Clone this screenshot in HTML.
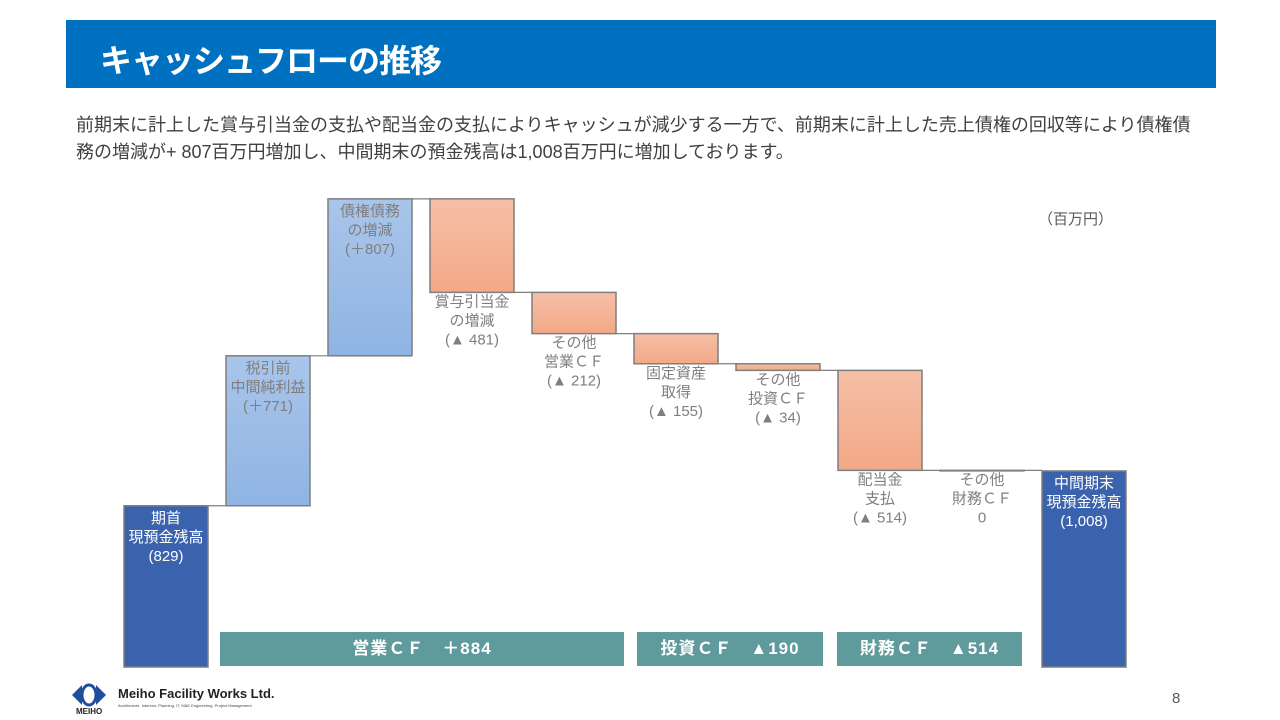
<!DOCTYPE html>
<html><head><meta charset="utf-8">
<style>
body{margin:0;width:1280px;height:720px;background:#fff;position:relative;overflow:hidden;font-family:"Liberation Sans","Noto Sans CJK JP",sans-serif}
.hdr{position:absolute;left:66px;top:20px;width:1150px;height:68px;background:#0070c0}
.hdr span{position:absolute;left:34px;top:16px;color:#fff;font-size:32px;font-weight:bold;letter-spacing:-1px}
.desc{position:absolute;left:76px;top:112px;width:1122px;font-size:18px;line-height:27px;color:#404040}
.unit{position:absolute;left:1038px;top:208px;font-size:15px;color:#595959}
.band{position:absolute;top:632px;height:34px;background:#5f9b9c;color:#fff;font-size:17px;line-height:34px;text-align:center;font-weight:bold;letter-spacing:1px}
.pg{position:absolute;left:1172px;top:690px;font-size:15px;color:#595959}
</style></head><body>
<div class="hdr"><span>キャッシュフローの推移</span></div>
<div class="desc">前期末に計上した賞与引当金の支払や配当金の支払によりキャッシュが減少する一方で、前期末に計上した売上債権の回収等により債権債務の増減が+ 807百万円増加し、中間期末の預金残高は1,008百万円に増加しております。</div>
<div class="unit">（百万円）</div>
<svg id="chart" width="1280" height="720" style="position:absolute;left:0;top:0">
<defs>
<linearGradient id="gB" x1="0" y1="0" x2="0" y2="1"><stop offset="0" stop-color="#a9c5ea"/><stop offset="1" stop-color="#8fb4e3"/></linearGradient>
<linearGradient id="gO" x1="0" y1="0" x2="0" y2="1"><stop offset="0" stop-color="#f6bfa6"/><stop offset="1" stop-color="#f2a987"/></linearGradient>
</defs>
</svg>
<div class="band" style="left:220px;width:404px">営業ＣＦ　＋884</div>
<div class="band" style="left:637px;width:186px">投資ＣＦ　▲190</div>
<div class="band" style="left:837px;width:185px">財務ＣＦ　▲514</div>
<div style="position:absolute;left:72px;top:683px;width:200px;height:35px">
<svg width="34" height="24" style="position:absolute;left:0;top:0"><path d="M0 12 L10 2 L10 22Z M34 12 L24 2 L24 22Z" fill="#1f4e9c"/><ellipse cx="17" cy="12" rx="7" ry="10" fill="none" stroke="#1f4e9c" stroke-width="3"/></svg>
<div style="position:absolute;left:4px;top:24px;font-size:8px;font-weight:bold;color:#222">MEIHO</div>
<div style="position:absolute;left:46px;top:3px;font-size:13px;font-weight:bold;color:#222;font-family:'Liberation Sans',sans-serif;white-space:nowrap">Meiho Facility Works Ltd.</div>
<div style="position:absolute;left:46px;top:20px;font-size:4px;color:#444;white-space:nowrap">Architecture, Interiors, Planning, IT, M&amp;E Engineering, Project Management</div>
</div>
<div class="pg">8</div>
<script>
const categories=["期首\n現預金残高\n(829)","税引前\n中間純利益\n(＋771)","債権債務\nの増減\n(＋807)","賞与引当金\nの増減\n(▲ 481)","その他\n営業ＣＦ\n(▲ 212)","固定資産\n取得\n(▲ 155)","その他\n投資ＣＦ\n(▲ 34)","配当金\n支払\n(▲ 514)","その他\n財務ＣＦ\n0","中間期末\n現預金残高\n(1,008)"];
const values=[829,771,807,-481,-212,-155,-34,-514,0,1008];
const kinds=["total","delta","delta","delta","delta","delta","delta","delta","delta","total"];
const svg=document.getElementById('chart');
const NS='http://www.w3.org/2000/svg';
const base=667, scale=0.1945, x0=124, step=102, bw=84;
const y=v=>base-v*scale;
let cum=0;
values.forEach((v,i)=>{
  let a,b;
  if(kinds[i]==='total'){a=0;b=v;cum=v;}else{a=cum;b=cum+v;cum=b;}
  const yt=y(Math.max(a,b)), yb=y(Math.min(a,b));
  const x=x0+i*step;
  const r=document.createElementNS(NS,'rect');
  
  
  r.setAttribute('x',x);r.setAttribute('y',yt);r.setAttribute('width',bw);r.setAttribute('height',Math.max(yb-yt,0.5));
  const fill=kinds[i]==='total'?'#3b63ad':(v>=0?'url(#gB)':'url(#gO)');
  r.setAttribute('fill',fill);r.setAttribute('stroke','#7f7f7f');r.setAttribute('stroke-width','1.5');
  svg.appendChild(r);
  const lines=categories[i].split('\n');
  let ty, col;
  if(kinds[i]==='total'){ty=yt+17;col='#fff';}
  else if(v>0){ty=yt+17;col='#7f7f7f';}
  else {ty=yb+14;col='#7f7f7f';}
  lines.forEach((t,k)=>{
    const tx=document.createElementNS(NS,'text');
    
    
    tx.setAttribute('x',x+bw/2);tx.setAttribute('y',ty+k*19);
    tx.setAttribute('text-anchor','middle');tx.setAttribute('font-size','15');tx.setAttribute('fill',col);
    tx.textContent=t;svg.appendChild(tx);
  });
  if(i<values.length-1){
    const l=document.createElementNS(NS,'line');
    
    
    l.setAttribute('x1',x+bw);l.setAttribute('x2',x+step);l.setAttribute('y1',y(cum));l.setAttribute('y2',y(cum));
    l.setAttribute('stroke','#7f7f7f');l.setAttribute('stroke-width','1.2');
    svg.appendChild(l);
  }
});
</script>
</body></html>
